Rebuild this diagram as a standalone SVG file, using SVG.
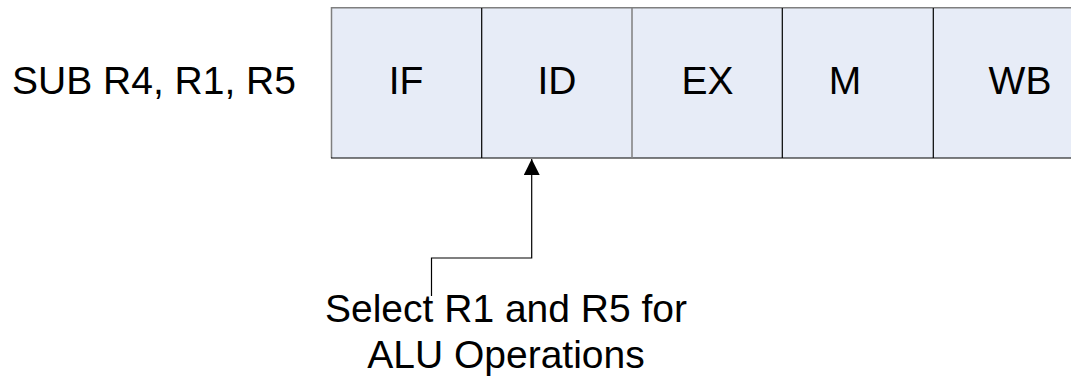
<svg xmlns="http://www.w3.org/2000/svg" width="1071" height="377" viewBox="0 0 1071 377">
  <style>
    .lbl { font-family: "Liberation Sans", Arial, sans-serif; font-size: 39px; fill: #000; }
    .cell { fill: #e7ecf7; stroke: none; }
    .edge-g { stroke: #7f7f7f; stroke-width: 1.5; fill: none; }
    .edge-k { stroke: #000; stroke-width: 1.2; fill: none; }
    .conn { stroke: #000; stroke-width: 1.2; fill: none; }
  </style>
  <defs>
    <marker id="tri" viewBox="0 0 16 16" refX="16" refY="8" markerWidth="16" markerHeight="16" markerUnits="userSpaceOnUse" orient="auto">
      <path d="M0,0 L16,8 L0,16 Z" fill="#000"/>
    </marker>
  </defs>

  <g id="instr">
    <text class="lbl" x="12" y="94">SUB R4, R1, R5</text>
  </g>

  <!-- pipeline stages -->
  <g id="stage-if">
    <rect class="cell" x="331" y="7.5" width="150.7" height="150.5"/>
    <text class="lbl" x="406" y="94" text-anchor="middle">IF</text>
  </g>
  <g id="stage-id">
    <rect class="cell" x="481.7" y="7.5" width="150.3" height="150.5"/>
    <text class="lbl" x="557" y="94" text-anchor="middle">ID</text>
  </g>
  <g id="stage-ex">
    <rect class="cell" x="632" y="7.5" width="150.3" height="150.5"/>
    <text class="lbl" x="707.5" y="94" text-anchor="middle">EX</text>
  </g>
  <g id="stage-m">
    <rect class="cell" x="782.3" y="7.5" width="151" height="150.5"/>
    <text class="lbl" x="845" y="94" text-anchor="middle">M</text>
  </g>
  <g id="stage-wb">
    <rect class="cell" x="933.3" y="7.5" width="140" height="150.5"/>
    <text class="lbl" x="1020" y="94" text-anchor="middle">WB</text>
  </g>

  <!-- stage borders -->
  <g id="borders">
    <path class="edge-g" d="M331.5,158 V7.8 H1071"/>
    <path class="edge-k" d="M331,158 H1071"/>
    <path class="edge-k" d="M481.7,8 V158"/>
    <path class="edge-g" d="M632,8 V158"/>
    <path class="edge-k" d="M782.3,8 V158" stroke="#333"/>
    <path class="edge-k" d="M933.3,8 V158" stroke="#444"/>
  </g>

  <g id="connectors">
    <path class="conn" d="M431.5,296 V258 H531.7 V159" marker-end="url(#tri)"/>
  </g>

  <g id="note">
    <text class="lbl" x="506" y="322" text-anchor="middle">Select R1 and R5 for</text>
    <text class="lbl" x="506" y="368" text-anchor="middle">ALU Operations</text>
  </g>
</svg>
